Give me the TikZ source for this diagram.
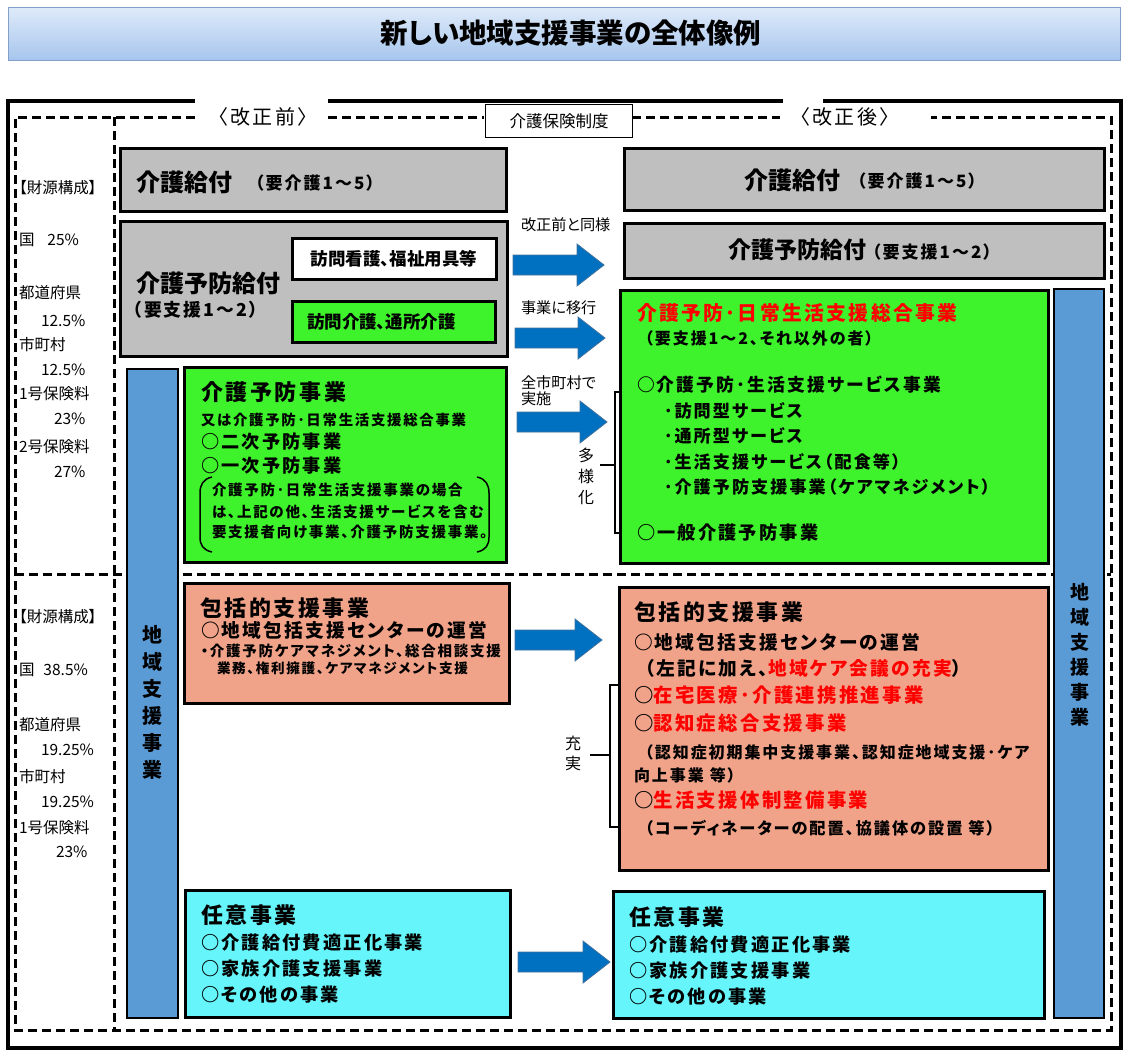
\documentclass[tikz,border=0pt]{standalone}
\usepackage{fontspec}
\setmainfont[RawFeature=+palt]{Noto Sans CJK JP}
\newfontfamily\jp[RawFeature=+palt]{Noto Sans CJK JP}
\newfontfamily\jq[LetterSpace=12,RawFeature=+palt]{Noto Sans CJK JP}
\usetikzlibrary{calc}
\definecolor{cgray}{RGB}{191,191,191}
\definecolor{cgreen}{RGB}{62,242,44}
\definecolor{csalmon}{RGB}{241,163,138}
\definecolor{ccyan}{RGB}{102,245,250}
\definecolor{cbar}{RGB}{91,155,213}
\definecolor{carrow}{RGB}{0,112,192}
\definecolor{carrowline}{RGB}{65,113,156}
\definecolor{ctitletop}{RGB}{222,234,249}
\definecolor{ctitlebot}{RGB}{166,197,237}
\definecolor{ctitleline}{RGB}{130,160,200}
\definecolor{cred}{RGB}{255,0,0}
\newcommand\fsz[1]{\fontsize{#1}{#1}\selectfont}
\newcommand\blockarr[2]{%
  \fill[carrow, draw=carrowline, line width=0.8pt] let \p1=(#1), \p2=(#2) in
   (\x1,\y1-10) -- (\x2-27,\y1-10) -- (\x2-27,\y1-21) -- (\x2,\y1) --
   (\x2-27,\y1+21) -- (\x2-27,\y1+10) -- (\x1,\y1+10) -- cycle;}
\tikzset{
  box/.style={draw=black, line width=3pt, anchor=north west, inner sep=0pt, outer sep=0pt},
  lbl/.style={anchor=west, inner sep=0pt, outer sep=0pt},
  fund/.style={lbl, font=\jp\fsz{15.5}},
  dashframe/.style={line width=3pt, dash pattern=on 9pt off 5pt},
  solidframe/.style={line width=4pt},
  bar/.style={draw=black, line width=2pt, fill=cbar, anchor=north west, inner sep=0pt},
  brk/.style={line width=1.5pt},
  hdr/.style={lbl, font=\jq\bfseries\fsz{21.9}},
  itm/.style={lbl, font=\jq\bfseries\fsz{18.2}},
  itmb/.style={lbl, font=\jq\bfseries\fsz{18.7}},
  redl/.style={lbl, font=\jq\bfseries\fsz{19.4}},
  paren/.style={lbl, font=\jq\bfseries\fsz{16}},
  sml/.style={lbl, font=\jq\bfseries\fsz{14.5}},
  arlbl/.style={lbl, font=\jp\fsz{15.2}},
}
\begin{document}
\begin{tikzpicture}[x=1pt,y=-1pt]
\useasboundingbox (0,0) rectangle (1126,1052);
% title
\node[draw=ctitleline, line width=1pt, top color=ctitletop, bottom color=ctitlebot,
  minimum width=1112pt, minimum height=53pt, anchor=north west, inner sep=0pt] (title) at (8,7) {};
\node[font=\jp\bfseries\fsz{27.5}, inner sep=0pt] (titletxt) at (571,33) {新しい地域支援事業の全体像例};
% frames
\draw[solidframe] (195,101) -- (8,101) -- (8,1048) -- (1121,1048) -- (1121,101) -- (823,101);
\draw[solidframe] (328,101) -- (783,101);
\draw[dashframe] (195,117) -- (15,117) -- (15,1030) -- (1111,1030) -- (1111,117) -- (931,117);
\draw[dashframe] (328,117) -- (484,117);
\draw[dashframe] (632,117) -- (780,117);
\draw[dashframe] (114,117) -- (114,1030);
\draw[dashframe] (15,574) -- (1111,574);
\node[font=\jq\fsz{20}, inner sep=0pt] (before) at (263,117) {〈改正前〉};
\node[font=\jq\fsz{20}, inner sep=0pt] (after) at (845,117) {〈改正後〉};
\node[draw, line width=1pt, fill=white, minimum width=147pt, minimum height=33pt,
  anchor=north west, inner sep=0pt] (seido) at (485,104) {};
\node[font=\jp\fsz{16.5}, inner sep=0pt] (seidot) at (seido.center) {介護保険制度};
% funding column
\node[fund] (f1) at (19,188) {【財源構成】};
\node[fund] (f2) at (19,240) {国\hspace{13pt}25\%};
\node[fund] (f3) at (19,293) {都道府県};
\node[fund] (f4) at (41,321) {12.5\%};
\node[fund] (f5) at (19,345) {市町村};
\node[fund] (f6) at (41,370) {12.5\%};
\node[fund] (f7) at (19,394) {1号保険料};
\node[fund] (f8) at (54,419) {23\%};
\node[fund] (f9) at (19,447) {2号保険料};
\node[fund] (f10) at (54,472) {27\%};
\node[fund] (g1) at (19,617) {【財源構成】};
\node[fund] (g2) at (19,670) {国\hspace{9pt}38.5\%};
\node[fund] (g3) at (19,725) {都道府県};
\node[fund] (g4) at (41,750) {19.25\%};
\node[fund] (g5) at (19,777) {市町村};
\node[fund] (g6) at (41,802) {19.25\%};
\node[fund] (g7) at (19,828) {1号保険料};
\node[fund] (g8) at (56,852) {23\%};
% left boxes
\node[box, fill=cgray, minimum width=386pt, minimum height=63pt] (kyufuL) at (120,148) {};
\node[lbl, font=\jp\bfseries\fsz{24}] (kyufuLt) at (136,182) {介護給付};
\node[lbl, font=\jq\bfseries\fsz{17}] (kyufuLp) at (255,183) {（要介護1～5）};
\node[box, fill=cgray, minimum width=387pt, minimum height=135pt] (yoboL) at (120,221) {};
\node[lbl, font=\jp\bfseries\fsz{24}] (yoboLt) at (136,283) {介護予防給付};
\node[lbl, font=\jq\bfseries\fsz{17.8}] (yoboLp) at (133,310) {（要支援1～2）};
\node[box, fill=white, minimum width=204pt, minimum height=41pt] (houW) at (292,238) {};
\node[font=\jp\bfseries\fsz{17.5}, inner sep=0pt] (houWt) at (houW.center) {訪問看護、福祉用具等};
\node[box, fill=cgreen, minimum width=203pt, minimum height=41pt] (houG) at (292,301) {};
\node[lbl, font=\jp\bfseries\fsz{17.5}] (houGt) at (307,322) {訪問介護、通所介護};
\node[bar, minimum width=51pt, minimum height=649pt] (barL) at (126,368) {};
\node[font=\jp\bfseries\fontsize{20}{27}\selectfont, align=center, inner sep=0pt] (barLt) at (152,702) {地\\域\\支\\援\\事\\業};
\node[box, fill=cgreen, minimum width=322pt, minimum height=195pt] (jigyoL) at (184,367) {};
\node[lbl, font=\jq\bfseries\fsz{22}] (j1) at (201,392) {介護予防事業};
\node[lbl, font=\jq\bfseries\fsz{14.4}] (j2) at (201,420) {又は介護予防･日常生活支援総合事業};
\node[itm] (j3) at (201,442) {○二次予防事業};
\node[itm] (j4) at (201,466) {○一次予防事業};
\node[sml] (j5) at (212,490) {介護予防･日常生活支援事業の場合};
\node[sml] (j6) at (212,512) {は、上記の他、生活支援サービスを含む};
\node[sml] (j7) at (212,532) {要支援者向け事業、介護予防支援事業。};
\draw[brk] (212,477) .. controls (203,479) and (200,485) .. (200,493) -- (200,537) .. controls (200,545) and (203,550) .. (212,552);
\draw[brk] (477,477) .. controls (486,479) and (489,485) .. (489,493) -- (489,537) .. controls (489,545) and (486,550) .. (477,552);
\node[box, fill=csalmon, minimum width=325pt, minimum height=120pt] (houkL) at (184,583) {};
\node[hdr] (h1) at (200,608) {包括的支援事業};
\node[itmb] (h2) at (201,630) {○地域包括支援センターの運営};
\node[lbl, font=\jq\bfseries\fsz{14.5}] (h3) at (201,651) {・介護予防ケアマネジメント、総合相談支援};
\node[lbl, font=\jq\bfseries\fsz{13.6}] (h4) at (217,668) {業務、権利擁護、ケアマネジメント支援};
\node[box, fill=ccyan, minimum width=325pt, minimum height=127pt] (niniL) at (185,890) {};
\node[hdr] (n1) at (201,915) {任意事業};
\node[itm] (n2) at (201,943) {○介護給付費適正化事業};
\node[itm] (n3) at (201,969) {○家族介護支援事業};
\node[itm] (n4) at (201,995) {○その他の事業};
% right boxes
\node[box, fill=cgray, minimum width=480pt, minimum height=62pt] (kyufuR) at (624,148) {};
\node[lbl, font=\jp\bfseries\fsz{24}] (kyufuRt) at (744,180) {介護給付};
\node[lbl, font=\jq\bfseries\fsz{17}] (kyufuRp) at (857,181) {（要介護1～5）};
\node[box, fill=cgray, minimum width=480pt, minimum height=55pt] (yoboR) at (624,223) {};
\node[lbl, font=\jp\bfseries\fsz{23}] (yoboRt) at (728,250) {介護予防給付};
\node[lbl, font=\jq\bfseries\fsz{17}] (yoboRp) at (872,252) {（要支援1～2）};
\node[bar, minimum width=50pt, minimum height=729pt] (barR) at (1053,288) {};
\node[font=\jp\bfseries\fontsize{19}{25}\selectfont, align=center, inner sep=0pt] (barRt) at (1080,655) {地\\域\\支\\援\\事\\業};
\node[box, fill=cgreen, minimum width=428pt, minimum height=273pt] (sogoR) at (620,290) {};
\node[lbl, font=\jq\bfseries\fsz{19.8}, text=cred] (s1) at (637,313) {介護予防･日常生活支援総合事業};
\node[paren] (s2) at (645,338) {（要支援1～2、それ以外の者）};
\node[lbl, font=\jq\bfseries\fsz{17.8}] (s3) at (637,385) {○介護予防･生活支援サービス事業};
\node[lbl, font=\jq\bfseries\fsz{17.1}] (s4) at (664,411) {･訪問型サービス};
\node[lbl, font=\jq\bfseries\fsz{17.1}] (s5) at (664,436) {･通所型サービス};
\node[lbl, font=\jq\bfseries\fsz{17.1}] (s6) at (664,462) {･生活支援サービス（配食等）};
\node[lbl, font=\jq\bfseries\fsz{17.1}] (s7) at (664,487) {･介護予防支援事業（ケアマネジメント）};
\node[itm] (s8) at (637,533) {○一般介護予防事業};
\node[box, fill=csalmon, minimum width=429pt, minimum height=283pt] (houkR) at (619,587) {};
\node[hdr] (k1) at (634,612) {包括的支援事業};
\node[itmb] (k2) at (634,642) {○地域包括支援センターの運営};
\node[itmb] (k3) at (645,668) {（左記に加え、\textcolor{cred}{地域ケア会議の充実}）};
\node[redl] (k4) at (634,695) {○\textcolor{cred}{在宅医療･介護連携推進事業}};
\node[redl] (k5) at (634,723) {○\textcolor{cred}{認知症総合支援事業}};
\node[paren] (k6) at (645,752) {（認知症初期集中支援事業、認知症地域支援･ケア};
\node[paren] (k7) at (634,775) {向上事業\hspace{6pt}等）};
\node[redl] (k8) at (634,800) {○\textcolor{cred}{生活支援体制整備事業}};
\node[lbl, font=\jq\bfseries\fsz{16.2}] (k9) at (645,828) {（コーディネーターの配置、協議体の設置\hspace{6pt}等）};
\node[box, fill=ccyan, minimum width=431pt, minimum height=127pt] (niniR) at (613,891) {};
\node[hdr] (m1) at (629,917) {任意事業};
\node[itm] (m2) at (629,945) {○介護給付費適正化事業};
\node[itm] (m3) at (629,971) {○家族介護支援事業};
\node[itm] (m4) at (629,997) {○その他の事業};
% arrows
\coordinate (a1s) at (513,265); \coordinate (a1e) at (604,265);
\coordinate (a2s) at (515,338); \coordinate (a2e) at (605,338);
\coordinate (a3s) at (517,422); \coordinate (a3e) at (607,422);
\coordinate (a4s) at (515,640); \coordinate (a4e) at (602,640);
\coordinate (a5s) at (518,962); \coordinate (a5e) at (610,962);
\blockarr{a1s}{a1e}
\blockarr{a2s}{a2e}
\blockarr{a3s}{a3e}
\blockarr{a4s}{a4e}
\blockarr{a5s}{a5e}
\node[arlbl] (al1) at (521,225) {改正前と同様};
\node[arlbl] (al2) at (521,308) {事業に移行};
\node[arlbl] (al3) at (521,383) {全市町村で};
\node[arlbl] (al4) at (521,399) {実施};
% brackets
\coordinate (b1t) at (622,392); \coordinate (b1b) at (622,533);
\draw[brk] (b1t) -- (615,392) -- (615,533) -- (b1b);
\coordinate (b1m) at (615,465); \coordinate (b1l) at (600,465);
\draw[brk] (b1m) -- (b1l);
\node[font=\jp\fontsize{16}{21}\selectfont, align=center, inner sep=0pt] (tayo) at (586,476) {多\\様\\化};
\coordinate (b2t) at (618,685); \coordinate (b2b) at (618,827);
\draw[brk] (b2t) -- (610,685) -- (610,827) -- (b2b);
\coordinate (b2m) at (610,755); \coordinate (b2l) at (590,755);
\draw[brk] (b2m) -- (b2l);
\node[font=\jp\fontsize{16}{20}\selectfont, align=center, inner sep=0pt] (juji) at (573,753) {充\\実};
\end{tikzpicture}
\end{document}
